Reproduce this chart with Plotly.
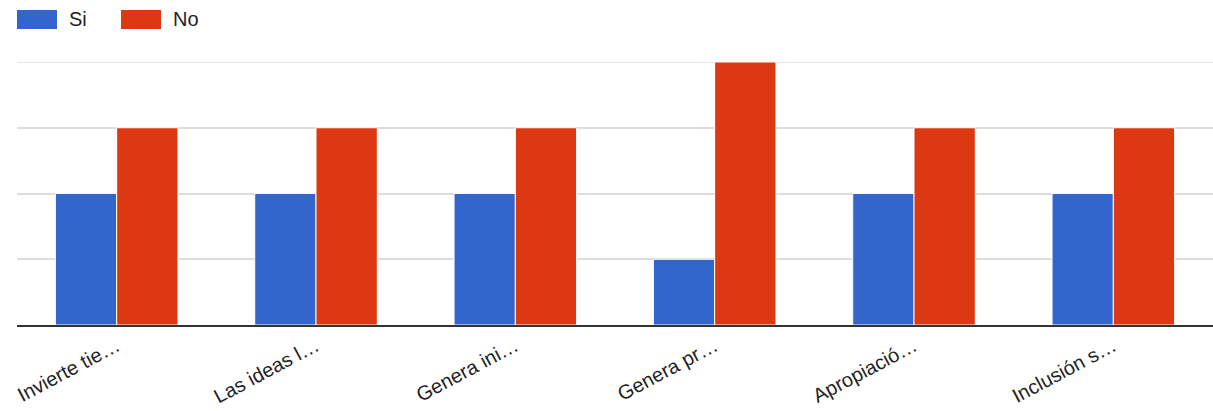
import plotly.graph_objects as go

categories = ["Invierte tie…", "Las ideas l…", "Genera ini…", "Genera pr…", "Apropiació…", "Inclusión s…"]
series_names = ["Si", "No"]
si_values = [2, 2, 2, 1, 2, 2]
no_values = [3, 3, 3, 4, 3, 3]
series_colors = ["#3366CC", "#DC3912"]
y_max = 4

FONT = "Liberation Sans, Arial, sans-serif"

fig = go.Figure()
for name, vals, color in zip(series_names, [si_values, no_values], series_colors):
    fig.add_trace(go.Bar(
        x=categories, y=vals, name=name,
        marker=dict(color=color, line=dict(color="white", width=1)),
        showlegend=False,
    ))

# custom legend: wide swatches with labels along the top-left
swatch_x = [17, 121]
for i, (name, color) in enumerate(zip(series_names, series_colors)):
    x0 = swatch_x[i]
    fig.add_shape(type="rect", xref="paper", yref="paper",
                  x0=(x0 - 17) / 1196, x1=(x0 + 40 - 17) / 1196,
                  y0=(325 - 29) / 263, y1=(325 - 10) / 263,
                  fillcolor=color, line=dict(width=0), layer="above")
    fig.add_annotation(text=name, xref="paper", yref="paper",
                       x=(x0 + 50 - 17) / 1196, y=(325 - 19) / 263,
                       xanchor="left", yanchor="middle", showarrow=False,
                       font=dict(family=FONT, size=20, color="#222222"))

# top gridline sits on the edge of the value range
fig.add_shape(type="line", xref="paper", yref="y", x0=0, x1=1, y0=y_max, y1=y_max,
              line=dict(color="#DDDDDD", width=1.5), layer="below")

fig.update_layout(
    width=1213, height=411,
    margin=dict(l=17, r=0, t=62, b=86),
    paper_bgcolor="white", plot_bgcolor="white",
    barmode="group", bargap=0.385, bargroupgap=0.0,
    font=dict(family=FONT, size=20, color="#222222"),
)
fig.update_xaxes(
    tickangle=-28, tickfont=dict(family=FONT, size=20, color="#222222"),
    showline=True, linecolor="#333333", linewidth=1.5,
    ticks="", showgrid=False, automargin=False,
)
fig.update_yaxes(
    range=[0, y_max], dtick=1, showticklabels=False,
    showgrid=True, gridcolor="#DDDDDD", gridwidth=1.5,
    zeroline=False, showline=False,
)

fig.write_html("out.html")
